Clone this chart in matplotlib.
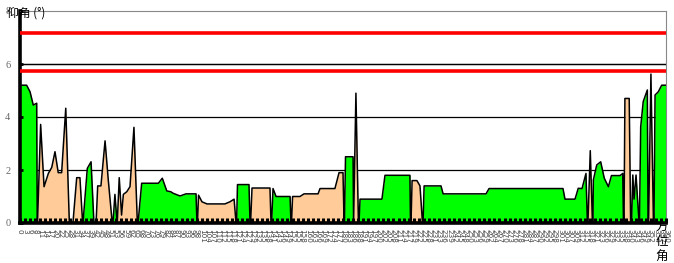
import numpy as np
import matplotlib
matplotlib.use("Agg")
import matplotlib.pyplot as plt

# ---- data: terrain horizon profile segments (azimuth deg, elevation deg) ----
seg_kind = ["g", "p", "p", "g", "p", "g", "p", "g", "p", "g", "p", "g", "p",
            "g", "p", "g", "p", "g", "p", "g", "p", "g", "g", "p", "g"]
seg_az = [
    [0, 3.7, 5.6, 7.4, 9.3, 9.6],
    [9.75, 11.5, 13.4, 15.8, 17.7, 19.5, 21.3, 23.2, 25.5, 27.5],
    [29.5, 31.6, 33.4, 34.9],
    [35.1, 37.5, 39.6, 41.2],
    [42.4, 43.3, 45.1, 47.4, 49.2, 51.4],
    [51.8, 52.9, 54.1],
    [54.2, 55.3, 56.6, 57.6, 59.5, 61.3, 63.5, 65.4],
    [65.8, 67.8, 77.1, 79.3, 81.8, 84.0, 85.4, 89.2, 92.5, 98.1, 98.6],
    [98.9, 99.5, 101.4, 104.2, 114.2, 117.0, 119.3, 120.4],
    [120.7, 121.2, 127.6, 128.2],
    [128.5, 129.3, 139.3, 139.9],
    [140.2, 141.0, 142.7, 150.5, 151.0],
    [151.3, 151.9, 156.0, 158.3, 166.1, 167.2, 175.5, 177.8, 180.0, 180.6],
    [180.8, 181.4, 185.6, 185.9],
    [185.9, 187.2, 188.6],
    [188.9, 189.5, 201.7, 203.4, 217.3, 217.6],
    [217.9, 218.5, 221.2, 222.9, 224.3],
    [224.6, 225.2, 234.6, 235.8, 259.7, 261.4, 302.6, 303.7, 309.3, 311.1,
     313.2, 315.4, 316.2],
    [316.5, 317.8, 319.0],
    [319.3, 319.5, 321.4, 323.6, 325.6, 327.9, 329.6, 334.4, 335.9, 336.3],
    [336.6, 337.1, 339.5, 340.3],
    [340.8, 341.5, 342.2, 343.3, 345.0],
    [345.2, 345.9, 347.3, 349.6, 350.0],
    [350.3, 351.6, 353.0],
    [353.3, 353.9, 355.7, 357.6, 360.0],
]
seg_el = [
    [5.2, 5.2, 4.95, 4.45, 4.52, 0],
    [0, 3.72, 1.37, 1.87, 2.1, 2.69, 1.9, 1.9, 4.33, 0],
    [0, 1.71, 1.71, 0],
    [0, 2.06, 2.31, 0],
    [0, 1.4, 1.4, 3.1, 1.62, 0],
    [0, 1.08, 0],
    [0, 1.71, 0.3, 1.08, 1.18, 1.37, 3.61, 0],
    [0, 1.5, 1.5, 1.69, 1.21, 1.18, 1.12, 1.02, 1.1, 1.1, 0],
    [0, 1.05, 0.8, 0.72, 0.72, 0.8, 0.9, 0],
    [0, 1.45, 1.45, 0],
    [0, 1.32, 1.32, 0],
    [0, 1.3, 1.0, 1.0, 0],
    [0, 1.0, 1.0, 1.1, 1.1, 1.3, 1.3, 1.9, 1.9, 0],
    [0, 2.5, 2.5, 0],
    [0, 4.9, 0],
    [0, 0.9, 0.9, 1.8, 1.8, 0],
    [0, 1.6, 1.6, 1.4, 0],
    [0, 1.4, 1.4, 1.1, 1.1, 1.3, 1.3, 0.9, 0.9, 1.31, 1.3, 1.87, 0],
    [0, 2.73, 0],
    [0, 1.62, 2.19, 2.31, 1.69, 1.37, 1.79, 1.79, 1.87, 0],
    [0, 4.7, 4.7, 0],
    [0, 1.81, 0.9, 1.81, 0],
    [0, 3.63, 4.58, 5.02, 0],
    [0, 5.62, 0],
    [0, 4.83, 4.95, 5.2, 5.2],
]
limit_lines = [7.17, 5.74]
grid_levels = [2, 4, 6]
y_ticks = [0, 2, 4, 6, 8]
x_tick_pos = np.linspace(0, 360, 129)
x_tick_labels = [str(int(round(v))) for v in x_tick_pos]

colors = {"g": "#00FF00", "p": "#FFCC99"}

W, H = 674, 263
fig = plt.figure(figsize=(W / 100, H / 100), dpi=100)
L, R, T, B = 20, 666, 11, 223
ax = fig.add_axes([L / W, 1 - B / H, (R - L) / W, (B - T) / H])
ax.set_axisbelow(False)

for lv in grid_levels:
    ax.axhline(lv, color="black", lw=0.9, zorder=1)

all_az, all_el = [], []
for k, az, el in zip(seg_kind, seg_az, seg_el):
    ax.fill_between(az, el, 0, color=colors[k], lw=0, zorder=2)
    all_az += az
    all_el += el
ax.plot(all_az, all_el, color="black", lw=1.1, zorder=2.2)

ax.axhline(6, color="black", lw=0.9, zorder=4)
for v in limit_lines:
    ax.axhline(v, color="#FF0000", lw=2.6, zorder=5)

ax.set_xlim(0, 360)
ax.set_ylim(0, 8)
ax.set_xticks(x_tick_pos)
ax.set_xticklabels(x_tick_labels, rotation=270, fontsize=5.2,
                   color="#444444", family="DejaVu Sans")
ax.set_yticks(y_ticks)
ax.set_yticklabels([str(v) for v in y_ticks], fontsize=7.5, color="#666666",
                   family="Liberation Serif")
ax.tick_params(axis="x", direction="in", length=3.6, width=2.2,
               color="black", pad=4)
ax.tick_params(axis="y", direction="in", length=2.5, width=2.0,
               color="black", pad=7)
for lab in ax.get_xticklabels():
    lab.set_verticalalignment("top")

ax.spines["left"].set_linewidth(2.6)
ax.spines["left"].set_color("black")
ax.spines["bottom"].set_linewidth(2.6)
ax.spines["bottom"].set_color("black")
ax.spines["top"].set_color("#888888")
ax.spines["top"].set_linewidth(0.8)
ax.spines["right"].set_color("#888888")
ax.spines["right"].set_linewidth(0.8)

cjk = ["Noto Sans CJK SC", "DejaVu Sans"]
fig.text(7 / W, 1 - 13 / H, "仰角 (°)", fontsize=8.5, family=cjk,
         ha="left", va="center", color="black")
for i, ch in enumerate("方位角"):
    fig.text(662 / W, 1 - (226 + i * 15) / H, ch, fontsize=9, family=cjk,
             ha="center", va="center", color="black")

fig.savefig("out.png", dpi=100)
